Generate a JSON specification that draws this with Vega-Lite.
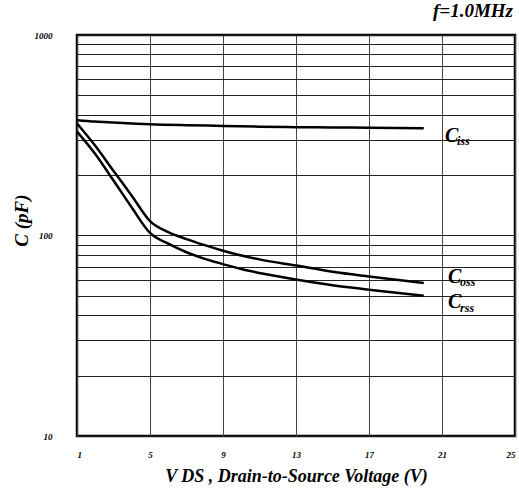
{
  "$schema": "https://vega.github.io/schema/vega-lite/v6.json",
  "autosize": {"type": "none"},
  "width": 438,
  "height": 401,
  "padding": {"left": 77, "top": 35, "right": 4, "bottom": 61},
  "background": "white",
  "title": {"text": "f=1.0MHz", "anchor": "end", "offset": 10, "dx": -2, "font": "Liberation Serif", "fontSize": 19, "fontWeight": "bold", "fontStyle": "italic", "color": "black"},
  "config": {
    "view": {"stroke": "black", "strokeWidth": 2.5},
    "axis": {"labelFont": "Liberation Serif", "labelFontWeight": "bold", "labelFontStyle": "italic", "labelColor": "black", "titleFont": "Liberation Serif", "titleFontWeight": "bold", "titleFontStyle": "italic", "titleColor": "black", "domain": false, "ticks": false, "gridColor": "#222", "gridOpacity": 1, "gridWidth": 1}
  },
  "datasets": {
    "curves": [
      {"series": "Ciss", "v": 1, "c": 376}, {"series": "Ciss", "v": 2, "c": 370}, {"series": "Ciss", "v": 3, "c": 366}, {"series": "Ciss", "v": 5, "c": 359}, {"series": "Ciss", "v": 7, "c": 355}, {"series": "Ciss", "v": 9, "c": 352}, {"series": "Ciss", "v": 11, "c": 349}, {"series": "Ciss", "v": 13, "c": 347}, {"series": "Ciss", "v": 15, "c": 346}, {"series": "Ciss", "v": 17, "c": 345}, {"series": "Ciss", "v": 20, "c": 343},
      {"series": "Coss", "v": 1, "c": 362}, {"series": "Coss", "v": 2, "c": 280}, {"series": "Coss", "v": 3, "c": 210}, {"series": "Coss", "v": 4, "c": 158}, {"series": "Coss", "v": 5, "c": 118}, {"series": "Coss", "v": 6, "c": 104}, {"series": "Coss", "v": 7, "c": 96}, {"series": "Coss", "v": 8, "c": 89.5}, {"series": "Coss", "v": 9, "c": 84}, {"series": "Coss", "v": 10, "c": 79.5}, {"series": "Coss", "v": 11, "c": 76}, {"series": "Coss", "v": 13, "c": 70.8}, {"series": "Coss", "v": 15, "c": 66}, {"series": "Coss", "v": 17, "c": 62.5}, {"series": "Coss", "v": 20, "c": 58},
      {"series": "Crss", "v": 1, "c": 330}, {"series": "Crss", "v": 2, "c": 255}, {"series": "Crss", "v": 3, "c": 188}, {"series": "Crss", "v": 4, "c": 138}, {"series": "Crss", "v": 5, "c": 103}, {"series": "Crss", "v": 6, "c": 91}, {"series": "Crss", "v": 7, "c": 82.5}, {"series": "Crss", "v": 8, "c": 76.5}, {"series": "Crss", "v": 9, "c": 72}, {"series": "Crss", "v": 10, "c": 68}, {"series": "Crss", "v": 11, "c": 65}, {"series": "Crss", "v": 13, "c": 60.3}, {"series": "Crss", "v": 15, "c": 56.5}, {"series": "Crss", "v": 17, "c": 53.7}, {"series": "Crss", "v": 20, "c": 50}
    ],
    "labels": [
      {"main": "C", "sub": "iss", "cx": 21.16, "cy": 292, "sx": 21.82, "sy": 282},
      {"main": "C", "sub": "oss", "cx": 21.33, "cy": 58.2, "sx": 21.99, "sy": 56.2},
      {"main": "C", "sub": "rss", "cx": 21.33, "cy": 43.6, "sx": 21.99, "sy": 41.7}
    ]
  },
  "layer": [
    {
      "data": {"name": "curves"},
      "mark": {"type": "line", "color": "black", "strokeWidth": 2.5, "interpolate": "monotone"},
      "encoding": {
        "x": {"field": "v", "type": "quantitative", "scale": {"domain": [1, 25], "nice": false, "zero": false},
          "axis": {"values": [1, 5, 9, 13, 17, 21, 25], "grid": true, "gridColor": "#444", "labelFontSize": 9, "labelPadding": 14, "title": "V DS , Drain-to-Source Voltage (V)", "titleFontSize": 18, "titlePadding": 8}},
        "y": {"field": "c", "type": "quantitative", "scale": {"type": "log", "domain": [10, 1000], "nice": false},
          "axis": {"values": [10, 20, 30, 40, 50, 60, 70, 80, 90, 100, 200, 300, 400, 500, 600, 700, 800, 900, 1000], "format": "d", "labelExpr": "datum.value == 10 || datum.value == 100 || datum.value == 1000 ? datum.label : ''", "grid": true, "labelFontSize": 9, "labelPadding": 25, "title": "C (pF)", "titleFontSize": 19, "titlePadding": 3, "titleY": 185}},
        "detail": {"field": "series"}
      }
    },
    {
      "data": {"name": "labels"},
      "mark": {"type": "text", "align": "left", "baseline": "alphabetic", "font": "Liberation Serif", "fontSize": 20, "fontWeight": "bold", "fontStyle": "italic", "color": "black"},
      "encoding": {
        "x": {"field": "cx", "type": "quantitative"},
        "y": {"field": "cy", "type": "quantitative"},
        "text": {"field": "main"}
      }
    },
    {
      "data": {"name": "labels"},
      "mark": {"type": "text", "align": "left", "baseline": "alphabetic", "font": "Liberation Serif", "fontSize": 12, "fontWeight": "bold", "fontStyle": "italic", "color": "black"},
      "encoding": {
        "x": {"field": "sx", "type": "quantitative"},
        "y": {"field": "sy", "type": "quantitative"},
        "text": {"field": "sub"}
      }
    }
  ]
}
